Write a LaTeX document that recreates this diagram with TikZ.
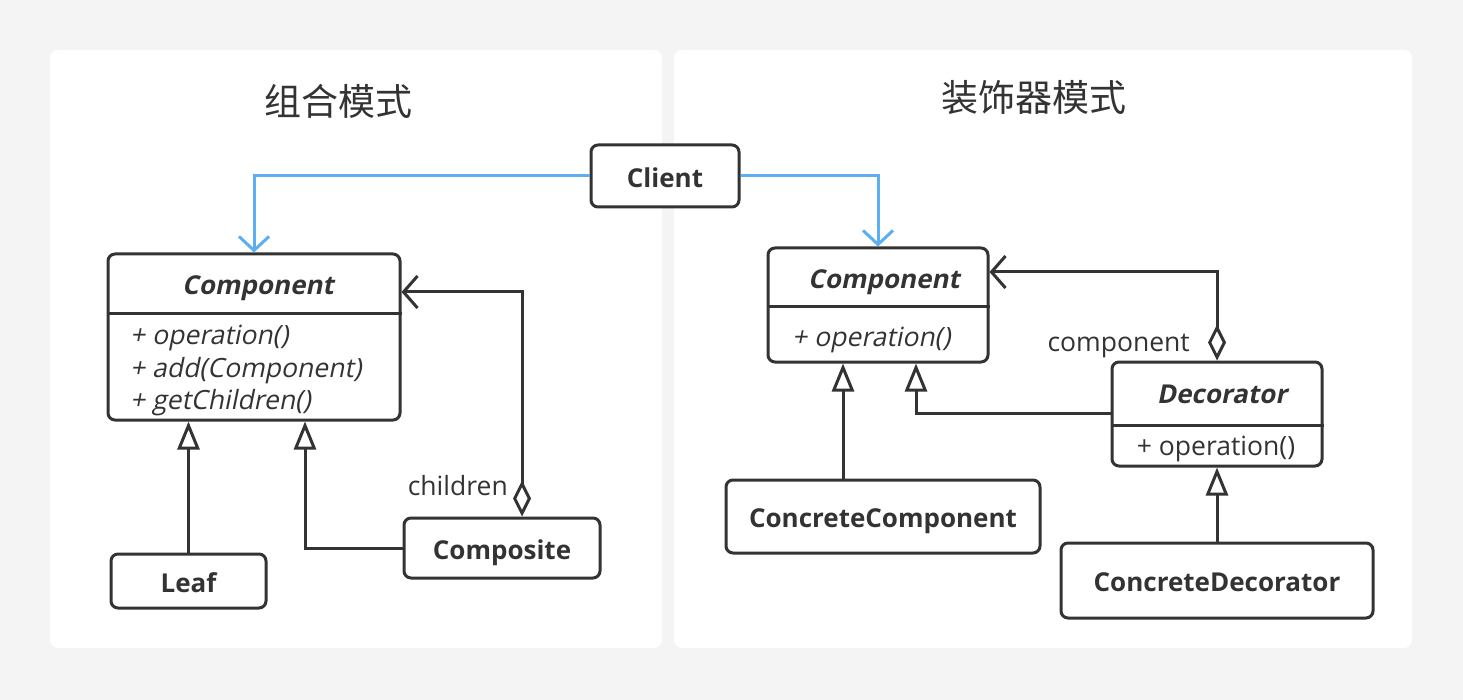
\documentclass[tikz,border=0pt]{standalone}
\usepackage{fontspec}
\setmainfont{Open Sans}
\newfontfamily\slantfont{Open Sans}[FakeSlant=0.2]
\newfontfamily\cjk{Noto Sans CJK SC}
\usetikzlibrary{arrows.meta,calc}
\definecolor{bg}{HTML}{F4F4F4}
\definecolor{ink}{HTML}{333333}
\definecolor{sky}{HTML}{5EAEF2}
\tikzset{
  panel/.style={fill=white, draw=none, rounded corners=8pt},
  box/.style={draw=ink, line width=3pt, rounded corners=7pt, fill=white, inner sep=0pt, text=ink, font=\fontsize{26}{30}\selectfont\bfseries, text height=22.6pt, text depth=0pt},
  cls/.style={draw=ink, line width=3pt, rounded corners=7pt, fill=white, inner sep=0pt},
  title/.style={text=ink, font=\fontsize{26}{30}\selectfont\slantfont\bfseries, inner sep=0pt, text height=18.6pt, text depth=0pt},
  meth/.style={text=ink, font=\fontsize{26.5}{30}\selectfont\slantfont, inner sep=0pt, anchor=west, text height=18.9pt, text depth=0pt},
  lbl/.style={text=ink, font=\fontsize{26.5}{30}\selectfont, inner sep=0pt, text height=18.9pt, text depth=0pt},
  head/.style={text=ink, font=\fontsize{37}{40}\selectfont\cjk, inner sep=0pt},
  divider/.style={draw=ink, line width=3pt},
  use/.style={draw=sky, line width=3pt, -{Straight Barb[length=14pt,width=30pt,line width=3pt]}},
  inherit/.style={draw=ink, line width=3pt, -{Triangle[open,length=28pt,width=22pt,line width=3pt,fill=white]}},
  agg/.style={draw=ink, line width=3pt, {Diamond[open,length=36pt,width=18pt,line width=3pt,fill=white]}-{Straight Barb[length=14pt,width=32pt,line width=3pt]}},
}
\begin{document}
\begin{tikzpicture}[x=1pt,y=-1pt]
\fill[bg] (0,0) rectangle (1463,700);
\useasboundingbox (0,0) rectangle (1463,700);
\fill[panel] (50,50) rectangle (662,648);
\fill[panel] (674,50) rectangle (1412,648);

\node[head] (t1) at (338,101) {组合模式};
\node[head] (t2) at (1034,98) {装饰器模式};

% Client
\node[box, minimum width=148pt, minimum height=62pt] (client) at (665,176) {Client};

% Left: Component
\node[cls, minimum width=292pt, minimum height=166pt] (compL) at (254,337) {};
\draw[divider] (compL.west |- 0,314) -- (compL.east |- 0,314);
\node[title] (compLt) at (258,285) {Component};
\node[meth] (mL1) at (130,335) {+ operation()};
\node[meth] (mL2) at (130,368) {+ add(Component)};
\node[meth] (mL3) at (130,400) {+ getChildren()};

\node[box, minimum width=155pt, minimum height=54pt] (leaf) at (188.5,581) {Leaf};
\node[box, minimum width=196pt, minimum height=60pt] (composite) at (502,548) {Composite};

\coordinate (lcx) at (305,0);
\coordinate (agx) at (522,0);
\coordinate (agy) at (0,292);
\draw[inherit] (leaf.north) -- (leaf.north |- compL.south);
\draw[inherit] (composite.west) -| (lcx |- compL.south);
\draw[agg] (agx |- composite.north) |- (compL.east |- agy);
\node[lbl, anchor=east] (chl) at (508,486) {children};

% Right: Component
\node[cls, minimum width=220pt, minimum height=114pt] (compR) at (878,305) {};
\draw[divider] (compR.west |- 0,307) -- (compR.east |- 0,307);
\node[title] (compRt) at (884,279) {Component};
\node[meth] (mR1) at (792,337) {+ operation()};

\node[box, minimum width=314pt, minimum height=73pt] (cc) at (883,516.5) {ConcreteComponent};

\node[cls, minimum width=210pt, minimum height=104pt] (deco) at (1217,414) {};
\draw[divider] (deco.west |- 0,425) -- (deco.east |- 0,425);
\node[title] (decot) at (1222,394) {Decorator};
\node[lbl] (decom) at (1216,446) {+ operation()};

\node[box, minimum width=312pt, minimum height=75pt] (cd) at (1217,580.5) {ConcreteDecorator};

\coordinate (ccx) at (843,0);
\coordinate (dcx) at (916,0);
\coordinate (dax) at (1217,0);
\coordinate (day) at (0,272);
\draw[inherit] (ccx |- cc.north) -- (ccx |- compR.south);
\draw[inherit] (deco.west |- 0,413) -| (dcx |- compR.south);
\draw[agg] (dax |- deco.north) |- (compR.east |- day);
\node[lbl, anchor=east] (cpl) at (1190,342) {component};
\draw[inherit] (cd.north) -- (deco.south);

% Client links
\draw[use] (client.west) -| (compL.north);
\draw[use] (client.east) -| (compR.north);
\end{tikzpicture}
\end{document}
